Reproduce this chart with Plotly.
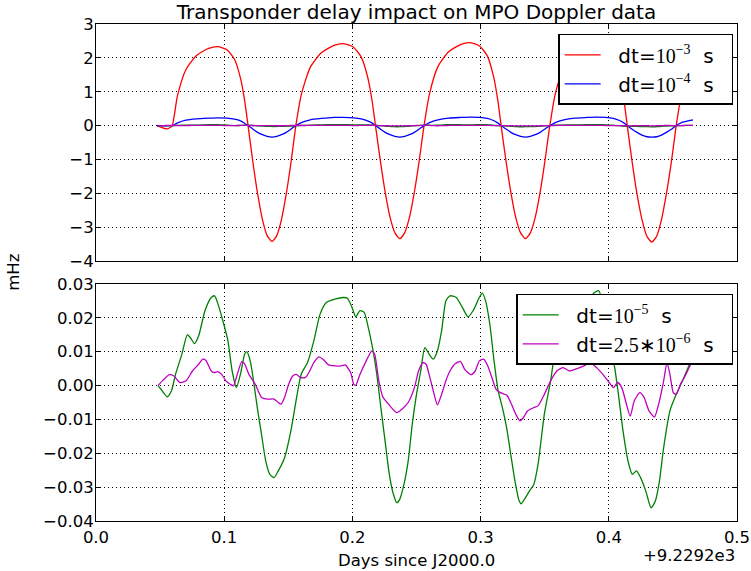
import plotly.graph_objects as go

# ---------------- data (days since J2000.0, offset +9229.2) ----------------
red_x = [0.0474, 0.0516, 0.0556, 0.0580, 0.0595,
         0.0636, 0.0701, 0.0784, 0.0879, 0.0950, 0.1021, 0.1080, 0.1127, 0.1159, 0.1186,
         0.1223, 0.1261, 0.1298, 0.1335, 0.1373, 0.1410, 0.1447, 0.1484, 0.1522, 0.1559,
         0.1602, 0.1671, 0.1758, 0.1857, 0.1932, 0.2006, 0.2068, 0.2118, 0.2152, 0.2180,
         0.2218, 0.2256, 0.2294, 0.2332, 0.2370, 0.2407, 0.2445, 0.2483, 0.2521, 0.2559,
         0.2601, 0.2667, 0.2751, 0.2847, 0.2920, 0.2992, 0.3052, 0.3100, 0.3133, 0.3160,
         0.3198, 0.3236, 0.3274, 0.3312, 0.3350, 0.3388, 0.3426, 0.3464, 0.3502, 0.3540,
         0.3582, 0.3649, 0.3733, 0.3830, 0.3902, 0.3975, 0.4035, 0.4084, 0.4117, 0.4144,
         0.4182, 0.4220, 0.4259, 0.4297, 0.4335, 0.4373, 0.4411, 0.4449, 0.4488, 0.4526,
         0.4567, 0.4630, 0.4657]
red_y = [0.00, -0.06, -0.10, -0.05, 0.00,
         0.89, 1.65, 2.07, 2.28, 2.33, 2.24, 1.96, 1.40, 0.75, 0.00,
         -1.06, -2.02, -2.77, -3.25, -3.42, -3.25, -2.77, -2.02, -1.06, 0.00,
         0.92, 1.72, 2.15, 2.37, 2.42, 2.32, 2.03, 1.45, 0.77, 0.00,
         -1.04, -1.97, -2.71, -3.17, -3.34, -3.17, -2.71, -1.97, -1.04, 0.00,
         0.93, 1.74, 2.18, 2.40, 2.45, 2.35, 2.06, 1.47, 0.78, 0.00,
         -1.04, -1.97, -2.71, -3.17, -3.34, -3.17, -2.71, -1.97, -1.04, 0.00,
         0.93, 1.74, 2.18, 2.40, 2.45, 2.35, 2.06, 1.47, 0.78, 0.00,
         -1.07, -2.02, -2.78, -3.27, -3.44, -3.27, -2.78, -2.02, -1.07, 0.00,
         0.92, 1.70, 1.90]

blue_x = red_x
blue_y = [0.000, -0.005, -0.008, -0.004, 0.000,
          0.08, 0.16, 0.20, 0.22, 0.23, 0.22, 0.19, 0.14, 0.07, 0.00,
          -0.10, -0.20, -0.27, -0.32, -0.34, -0.32, -0.27, -0.20, -0.10, 0.00,
          0.09, 0.17, 0.21, 0.24, 0.24, 0.23, 0.20, 0.14, 0.08, 0.00,
          -0.10, -0.20, -0.27, -0.32, -0.34, -0.32, -0.27, -0.20, -0.10, 0.00,
          0.09, 0.17, 0.22, 0.24, 0.25, 0.24, 0.21, 0.15, 0.08, 0.00,
          -0.10, -0.20, -0.27, -0.32, -0.34, -0.32, -0.27, -0.20, -0.10, 0.00,
          0.09, 0.17, 0.22, 0.24, 0.25, 0.24, 0.21, 0.15, 0.08, 0.00,
          -0.11, -0.20, -0.28, -0.33, -0.34, -0.33, -0.28, -0.20, -0.11, 0.00,
          0.09, 0.15, 0.17]

green_x = [0.0484, 0.0507, 0.0556, 0.0588, 0.0621, 0.0670, 0.0712, 0.0735, 0.0768, 0.0801,
           0.0850, 0.0899, 0.0925, 0.0948, 0.0997, 0.1029, 0.1062, 0.1095, 0.1127, 0.1160,
           0.1176, 0.1203, 0.1225, 0.1258, 0.1291, 0.1324, 0.1356, 0.1389, 0.1422, 0.1471,
           0.1520, 0.1569, 0.1601, 0.1650, 0.1699, 0.1748, 0.1797, 0.1863, 0.1928, 0.1961,
           0.1993, 0.2026, 0.2059, 0.2092, 0.2124, 0.2157, 0.2190, 0.2222, 0.2255, 0.2288,
           0.2320, 0.2346, 0.2369, 0.2402, 0.2435, 0.2467, 0.2500, 0.2533, 0.2565, 0.2598,
           0.2631, 0.2663, 0.2696, 0.2729, 0.2761, 0.2810, 0.2859, 0.2902, 0.2941, 0.2990,
           0.3013, 0.3039, 0.3072, 0.3105, 0.3137, 0.3170, 0.3203, 0.3235, 0.3268, 0.3301,
           0.3317, 0.3350, 0.3382, 0.3415, 0.3448, 0.3497, 0.3546, 0.3578, 0.3627, 0.3725,
           0.3824, 0.3889, 0.3922, 0.3954, 0.4003, 0.4046, 0.4078, 0.4111, 0.4150, 0.4183,
           0.4216, 0.4248, 0.4288, 0.4330, 0.4363, 0.4395, 0.4428, 0.4477, 0.4526, 0.4575,
           0.4624, 0.4657]
green_y = [0.0000, -0.0011, -0.0033, -0.0016, 0.0034, 0.0093, 0.0150, 0.0142, 0.0124, 0.0147,
           0.0221, 0.0260, 0.0265, 0.0245, 0.0181, 0.0132, 0.0043, -0.0006, 0.0034, 0.0093,
           0.0100, 0.0073, 0.0024, -0.0065, -0.0144, -0.0223, -0.0262, -0.0272, -0.0252, -0.0213,
           -0.0134, -0.0026, 0.0034, 0.0068, 0.0132, 0.0211, 0.0245, 0.0255, 0.0260, 0.0258,
           0.0235, 0.0203, 0.0221, 0.0216, 0.0171, 0.0112, 0.0034, -0.0065, -0.0164, -0.0262,
           -0.0321, -0.0346, -0.0336, -0.0292, -0.0223, -0.0114, -0.0026, 0.0043, 0.0112, 0.0093,
           0.0078, 0.0102, 0.0162, 0.0250, 0.0265, 0.0260, 0.0230, 0.0203, 0.0221, 0.0260,
           0.0273, 0.0250, 0.0181, 0.0073, -0.0016, -0.0065, -0.0124, -0.0203, -0.0282, -0.0341,
           -0.0349, -0.0331, -0.0311, -0.0292, -0.0233, -0.0085, 0.0014, 0.0093, 0.0152, 0.0221,
           0.0250, 0.0275, 0.0280, 0.0240, 0.0132, 0.0053, -0.0035, -0.0134, -0.0223, -0.0262,
           -0.0252, -0.0272, -0.0311, -0.0361, -0.0341, -0.0282, -0.0183, -0.0075, -0.0026, 0.0014,
           0.0058, 0.0083]

magenta_x = [0.0484, 0.0523, 0.0572, 0.0605, 0.0654, 0.0703, 0.0752, 0.0801, 0.0833, 0.0856,
             0.0899, 0.0922, 0.0948, 0.0980, 0.1013, 0.1046, 0.1072, 0.1095, 0.1137, 0.1160,
             0.1193, 0.1242, 0.1291, 0.1340, 0.1389, 0.1422, 0.1444, 0.1471, 0.1503, 0.1536,
             0.1562, 0.1595, 0.1634, 0.1667, 0.1699, 0.1739, 0.1771, 0.1814, 0.1863, 0.1912,
             0.1944, 0.1987, 0.2010, 0.2026, 0.2059, 0.2108, 0.2150, 0.2173, 0.2206, 0.2239,
             0.2271, 0.2304, 0.2346, 0.2386, 0.2435, 0.2484, 0.2516, 0.2549, 0.2575, 0.2598,
             0.2631, 0.2663, 0.2696, 0.2729, 0.2761, 0.2804, 0.2843, 0.2876, 0.2925, 0.2958,
             0.2990, 0.3023, 0.3056, 0.3088, 0.3121, 0.3154, 0.3203, 0.3235, 0.3275, 0.3307,
             0.3333, 0.3366, 0.3415, 0.3448, 0.3497, 0.3546, 0.3595, 0.3644, 0.3693, 0.3758,
             0.3807, 0.3856, 0.3905, 0.3954, 0.4003, 0.4036, 0.4069, 0.4101, 0.4134, 0.4167,
             0.4199, 0.4242, 0.4275, 0.4314, 0.4356, 0.4395, 0.4428, 0.4454, 0.4477, 0.4503,
             0.4526, 0.4559, 0.4601, 0.4657]
magenta_y = [0.0000, 0.0016, 0.0032, 0.0029, 0.0009, 0.0014, 0.0043, 0.0063, 0.0078, 0.0075,
             0.0043, 0.0038, 0.0041, 0.0033, 0.0014, 0.0004, -0.0001, 0.0024, 0.0071, 0.0063,
             0.0033, 0.0004, -0.0035, -0.0040, -0.0040, -0.0050, -0.0055, -0.0035, 0.0004, 0.0029,
             0.0033, 0.0024, 0.0024, 0.0043, 0.0068, 0.0085, 0.0078, 0.0061, 0.0058, 0.0058,
             0.0061, 0.0038, 0.0004, 0.0001, 0.0033, 0.0073, 0.0102, 0.0093, 0.0014, -0.0035,
             -0.0050, -0.0065, -0.0080, -0.0070, -0.0050, -0.0006, 0.0043, 0.0068, 0.0063, 0.0033,
             -0.0016, -0.0057, -0.0026, 0.0014, 0.0043, 0.0065, 0.0071, 0.0048, 0.0032, 0.0043,
             0.0073, 0.0078, 0.0058, 0.0024, -0.0011, -0.0021, -0.0028, -0.0050, -0.0085, -0.0104,
             -0.0095, -0.0075, -0.0065, -0.0060, -0.0026, 0.0014, 0.0043, 0.0053, 0.0043, 0.0051,
             0.0058, 0.0068, 0.0053, 0.0033, 0.0009, -0.0006, 0.0009, -0.0006, -0.0050, -0.0090,
             -0.0045, -0.0021, -0.0035, -0.0075, -0.0093, -0.0045, 0.0014, 0.0068, 0.0033, -0.0021,
             -0.0026, 0.0004, 0.0033, 0.0078]

x_ticks = [0.0, 0.1, 0.2, 0.3, 0.4, 0.5]
top_y_ticks = [-4, -3, -2, -1, 0, 1, 2, 3]
bot_y_ticks = [-0.04, -0.03, -0.02, -0.01, 0.0, 0.01, 0.02, 0.03]

MATH = '<span style="font-family:\'Liberation Serif\'">'
NB = "\u00a0"
names = {
    "red": NB + NB + "dt=" + MATH + "10<sup>−3</sup></span>" + NB + NB + "s" + NB + NB,
    "blue": NB + NB + "dt=" + MATH + "10<sup>−4</sup></span>" + NB + NB + "s" + NB + NB,
    "green": NB + NB + "dt=" + MATH + "10<sup>−5</sup></span>" + NB + NB + "s" + NB + NB,
    "magenta": NB + NB + "dt=" + MATH + "2.5∗10<sup>−6</sup></span>" + NB + NB + "s" + NB + NB,
}
colors = {"red": "#ff0000", "blue": "#0000ff", "green": "#008000", "magenta": "#bf00bf"}

FONT = "DejaVu Sans"
TICK = 16.5
LW = 1.3

fig = go.Figure()
line_kw = dict(shape="spline", smoothing=0.6, width=LW)

# top panel
fig.add_trace(go.Scatter(x=red_x, y=red_y, mode="lines", name=names["red"], legend="legend",
                         legendgroup="r", line=dict(color=colors["red"], **line_kw), xaxis="x", yaxis="y"))
fig.add_trace(go.Scatter(x=blue_x, y=blue_y, mode="lines", name=names["blue"], legend="legend",
                         legendgroup="b", line=dict(color=colors["blue"], **line_kw), xaxis="x", yaxis="y"))
fig.add_trace(go.Scatter(x=green_x, y=green_y, mode="lines", showlegend=False,
                         line=dict(color=colors["green"], **line_kw), xaxis="x", yaxis="y"))
fig.add_trace(go.Scatter(x=magenta_x, y=magenta_y, mode="lines", showlegend=False,
                         line=dict(color=colors["magenta"], **line_kw), xaxis="x", yaxis="y"))
# bottom panel
fig.add_trace(go.Scatter(x=green_x, y=green_y, mode="lines", name=names["green"], legend="legend2",
                         legendgroup="g", line=dict(color=colors["green"], **line_kw), xaxis="x2", yaxis="y2"))
fig.add_trace(go.Scatter(x=magenta_x, y=magenta_y, mode="lines", name=names["magenta"], legend="legend2",
                         legendgroup="m", line=dict(color=colors["magenta"], **line_kw), xaxis="x2", yaxis="y2"))

axis_common = dict(showline=True, linecolor="black", linewidth=1, mirror="allticks",
                   ticks="inside", ticklen=5, tickcolor="black", tickwidth=1,
                   showgrid=True, gridcolor="black", gridwidth=1, griddash="1px,3px",
                   zeroline=False, automargin=False,
                   tickfont=dict(family=FONT, size=TICK, color="black"))

legend_common = dict(bgcolor="white", bordercolor="black", borderwidth=1.5,
                     font=dict(family=FONT, size=20, color="black"),
                     xanchor="right", yanchor="top", tracegroupgap=0, itemwidth=36)

fig.update_layout(
    width=751, height=571,
    margin=dict(l=96, r=14, t=24, b=50, autoexpand=False),
    paper_bgcolor="white", plot_bgcolor="white",
    font=dict(family=FONT, color="black"),
    title=dict(text="Transponder delay impact on MPO Doppler data", x=0.5, xref="paper",
               xanchor="center", y=1 - 12 / 571, yref="container", yanchor="middle",
               font=dict(family=FONT, size=20, color="black")),
    xaxis=dict(domain=[0, 1], anchor="y", range=[0, 0.5], tickvals=x_ticks,
               showticklabels=False, matches="x2", **axis_common),
    yaxis=dict(domain=[0.5231, 1], anchor="x", range=[-4, 3], tickvals=top_y_ticks,
               tickformat="d", ticklabelstandoff=-2, **axis_common),
    xaxis2=dict(domain=[0, 1], anchor="y2", range=[0, 0.5], tickvals=x_ticks,
                tickformat=".1f", ticklabelstandoff=1, **axis_common),
    yaxis2=dict(domain=[0, 0.4769], anchor="x2", range=[-0.04, 0.03], tickvals=bot_y_ticks,
                tickformat=".2f", ticklabelstandoff=-2, **axis_common),
    legend=dict(x=0.994, y=0.980, **legend_common),
    legend2=dict(x=0.994, y=0.457, **legend_common),
    showlegend=True,
    annotations=[
        dict(text="Days since J2000.0", xref="paper", yref="paper", x=0.5, y=-0.0785,
             xanchor="center", yanchor="middle", showarrow=False,
             font=dict(family=FONT, size=TICK, color="black")),
        dict(text="+9.2292e3", xref="paper", yref="paper", x=1.0, y=-0.0704,
             xanchor="right", yanchor="middle", showarrow=False,
             font=dict(family=FONT, size=TICK, color="black")),
        dict(text="mHz", xref="paper", yref="paper", x=-0.129, y=0.5, textangle=-90,
             xanchor="center", yanchor="middle", showarrow=False,
             font=dict(family=FONT, size=TICK, color="black")),
    ],
)

fig.write_html("out.html", config={"displayModeBar": False},
               post_script="document.body.style.margin='0px';document.body.style.overflow='hidden';")
